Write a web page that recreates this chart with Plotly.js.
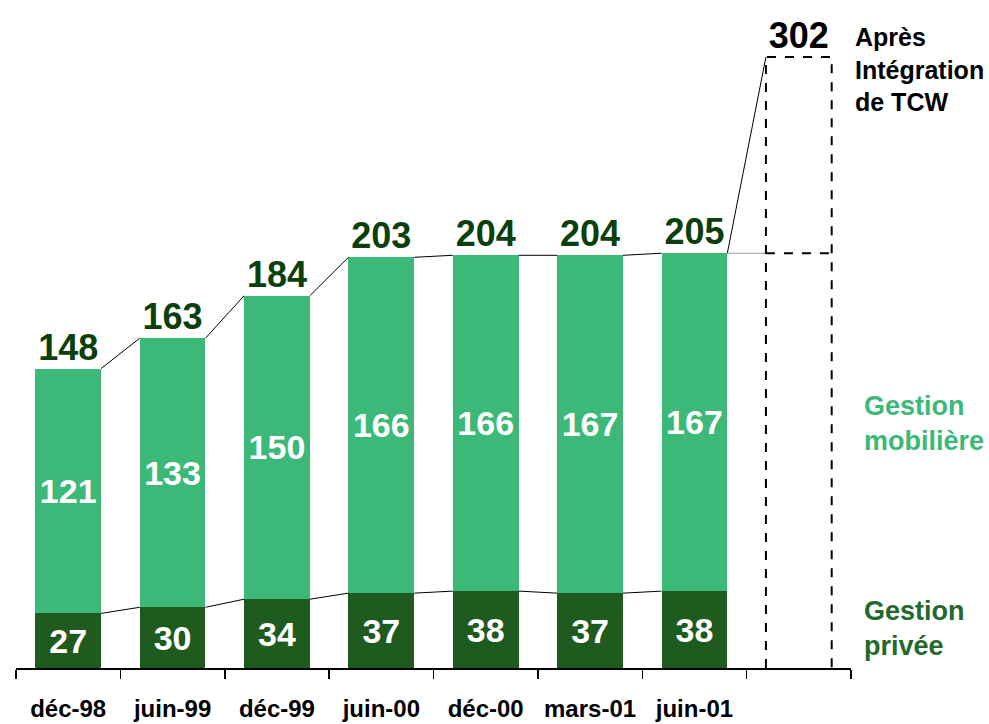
<!DOCTYPE html>
<html>
<head>
<meta charset="utf-8">
<script src="https://cdn.plot.ly/plotly-3.0.1.min.js"></script>
<style>html,body{margin:0;padding:0;background:#fff;}#chart{width:989px;height:724px;}</style>
</head>
<body>
<div id="chart"></div>
<script>
// ---- data ----
var categories = ["déc-98", "juin-99", "déc-99", "juin-00", "déc-00", "mars-01", "juin-01"];
var gestionPrivee = [27, 30, 34, 37, 38, 37, 38];
var gestionMobiliere = [121, 133, 150, 166, 166, 167, 167];
var totals = [148, 163, 184, 203, 204, 204, 205];
var tcwTotal = 302;
var tcwLabel = "Après<br>Intégration<br>de TCW";
var seriesNames = ["Gestion<br>privée", "Gestion<br>mobilière"];

// ---- styling ----
var LIGHT = "#3CB878", DARK = "#1F5A1F", TOTAL_COL = "#0B3F0B";
var FONT = "Liberation Sans, Arial, sans-serif";
var BW = 0.63;
var idx = categories.map(function (_, i) { return i; });
var tcwIdx = categories.length;

// connector lines between tops (computed from data)
function connectors(vals) {
  var xs = [], ys = [];
  for (var i = 0; i < vals.length - 1; i++) {
    xs.push(i + BW / 2, i + 1 - BW / 2, null);
    ys.push(vals[i], vals[i + 1], null);
  }
  return { x: xs, y: ys };
}
var cTot = connectors(totals);
var cPriv = connectors(gestionPrivee);
var last = totals[totals.length - 1];

var traces = [
  {
    type: "bar", x: idx, y: gestionPrivee, width: BW,
    marker: { color: DARK }, text: gestionPrivee.map(String),
    textposition: "inside", insidetextanchor: "middle",
    textfont: { color: "#fff", size: 34, family: FONT, weight: "bold" },
    hoverinfo: "skip"
  },
  {
    type: "bar", x: idx, y: gestionMobiliere, width: BW,
    marker: { color: LIGHT }, text: gestionMobiliere.map(String),
    textposition: "inside", insidetextanchor: "middle",
    textfont: { color: "#fff", size: 34, family: FONT, weight: "bold" },
    hoverinfo: "skip"
  },
  { type: "scatter", mode: "lines", x: cTot.x, y: cTot.y, line: { color: "#000", width: 1 }, hoverinfo: "skip" },
  { type: "scatter", mode: "lines", x: cPriv.x, y: cPriv.y, line: { color: "#000", width: 1 }, hoverinfo: "skip" },
  // line from last bar to TCW box
  { type: "scatter", mode: "lines",
    x: [tcwIdx - 1 + BW / 2, tcwIdx - BW / 2], y: [last, tcwTotal],
    line: { color: "#000", width: 1 }, hoverinfo: "skip" },
  { type: "scatter", mode: "lines",
    x: [tcwIdx - 1 + BW / 2, tcwIdx - BW / 2], y: [last, last],
    line: { color: "#999", width: 1 }, hoverinfo: "skip" },
  // dashed TCW box
  { type: "scatter", mode: "lines",
    x: [tcwIdx - BW / 2, tcwIdx - BW / 2, tcwIdx + BW / 2, tcwIdx + BW / 2, null, tcwIdx - BW / 2, tcwIdx + BW / 2],
    y: [0, tcwTotal, tcwTotal, 0, null, last, last],
    line: { color: "#000", width: 2, dash: "dash" }, hoverinfo: "skip" },
  // totals labels
  { type: "scatter", mode: "text", x: idx, y: totals, text: totals.map(String),
    textposition: "top center",
    textfont: { color: TOTAL_COL, size: 36, family: FONT, weight: "bold" }, hoverinfo: "skip" },
  { type: "scatter", mode: "text", x: [tcwIdx], y: [tcwTotal], text: [String(tcwTotal)],
    textposition: "top center",
    textfont: { color: "#000", size: 36, family: FONT, weight: "bold" }, hoverinfo: "skip" }
];

var boundaries = [];
for (var b = -0.5; b <= tcwIdx + 0.5; b += 1) boundaries.push(b);

var layout = {
  width: 989, height: 724,
  margin: { l: 16, r: 138, t: 20, b: 56 },
  barmode: "stack",
  showlegend: false,
  paper_bgcolor: "#fff", plot_bgcolor: "#fff",
  font: { family: FONT },
  xaxis: {
    type: "linear", range: [-0.5, tcwIdx + 0.5],
    tickmode: "array", tickvals: idx, ticktext: categories,
    ticks: "", showgrid: false, zeroline: false,
    showline: true, linecolor: "#000", linewidth: 1.5,
    tickfont: { size: 24, color: "#000", family: FONT, weight: "bold" },
    ticklabelstandoff: 19,
    minor: { tickmode: "array", tickvals: boundaries, ticks: "outside", ticklen: 9, tickcolor: "#000", tickwidth: 1.5, showgrid: false }
  },
  yaxis: { range: [0, 320.3], visible: false, fixedrange: true },
  annotations: [
    { xref: "paper", yref: "paper", x: 1.0024, y: 0.923, xanchor: "left", yanchor: "middle", align: "left",
      text: tcwLabel, showarrow: false,
      font: { size: 25, color: "#000", family: FONT, weight: "bold" } },
    { xref: "paper", yref: "y", x: 1.0132, y: 121, xanchor: "left", yanchor: "middle", align: "left",
      text: seriesNames[1], showarrow: false,
      font: { size: 27, color: LIGHT, family: FONT, weight: "bold" } },
    { xref: "paper", yref: "y", x: 1.0132, y: 19.3, xanchor: "left", yanchor: "middle", align: "left",
      text: seriesNames[0], showarrow: false,
      font: { size: 27, color: "#216A2A", family: FONT, weight: "bold" } }
  ]
};

Plotly.newPlot("chart", traces, layout, { displayModeBar: false, staticPlot: true });
</script>
</body>
</html>
